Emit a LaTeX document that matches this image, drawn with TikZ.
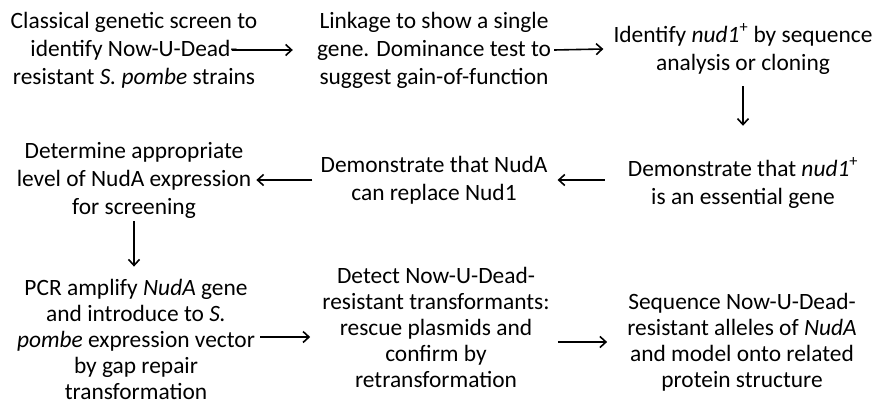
\documentclass[tikz,border=0pt]{standalone}
\usepackage{fontspec}
\setmainfont{Carlito}
\usetikzlibrary{arrows.meta}

\begin{document}
\begin{tikzpicture}[x=1pt, y=-1pt,
    paso/.style={align=center, inner sep=0pt, font=\fontsize{23.4}{28}\selectfont},
    pasobajo/.style={paso, font=\fontsize{23.4}{26}\selectfont},
    flecha/.style={-{Straight Barb[length=6pt,width=11pt]}, line width=1.6pt}]
    \useasboundingbox (0,0) rectangle (874,406);
    % Fila de arriba
    \node[paso] (screen) at (134,50) {Classical genetic screen to\\identify Now-U-Dead-\\resistant \textit{S. pombe} strains};
    \node[paso] (linkage) at (434,50) {Linkage to show a single\\gene. Dominance test to\\suggest gain-of-function};
    \node[paso] (identify) at (743,49) {Identify \textit{nud1}\textsuperscript{+} by sequence\\analysis or cloning};
    % Fila del medio
    \node[paso] (essential) at (743,183) {Demonstrate that \textit{nud1}\textsuperscript{+}\\is an essential gene};
    \node[paso] (replace) at (434,180) {Demonstrate that NudA\\can replace Nud1};
    \node[paso] (level) at (134,180) {Determine appropriate\\level of NudA expression\\for screening};
    % Fila de abajo
    \node[pasobajo] (pcr) at (136,339) {PCR amplify \textit{NudA} gene\\and introduce to \textit{S.}\\\textit{pombe} expression vector\\by gap repair\\transformation};
    \node[pasobajo] (detect) at (436,327) {Detect Now-U-Dead-\\resistant transformants:\\rescue plasmids and\\confirm by\\retransformation};
    \node[pasobajo] (sequence) at (742,342) {Sequence Now-U-Dead-\\resistant alleles of \textit{NudA}\\and model onto related\\protein structure};
    % Flechas
    \draw[flecha] ([xshift=-25pt]screen.east) -- ([xshift=-24pt]linkage.west);
    \draw[flecha] ([xshift=3pt]linkage.east) -- ([xshift=-10pt]identify.west);
    \draw[flecha] ([yshift=-12pt]identify.south) -- ([yshift=32pt]essential.north);
    \draw[flecha] ([xshift=-23pt]essential.west |- replace.east) -- ([xshift=10pt]replace.east);
    \draw[flecha] ([xshift=-8pt]replace.west) -- ([xshift=5pt]level.east |- replace.west);
    \draw[flecha] ([yshift=-3pt]level.south) -- ([yshift=12pt]pcr.north -| level.south);
    \draw[flecha] ([xshift=5pt,yshift=2pt]pcr.east) -- ([xshift=-12pt,yshift=2pt]pcr.east -| detect.west);
    \draw[flecha] ([xshift=8pt]detect.east |- sequence.west) -- ([xshift=-20pt]sequence.west);
\end{tikzpicture}
\end{document}
